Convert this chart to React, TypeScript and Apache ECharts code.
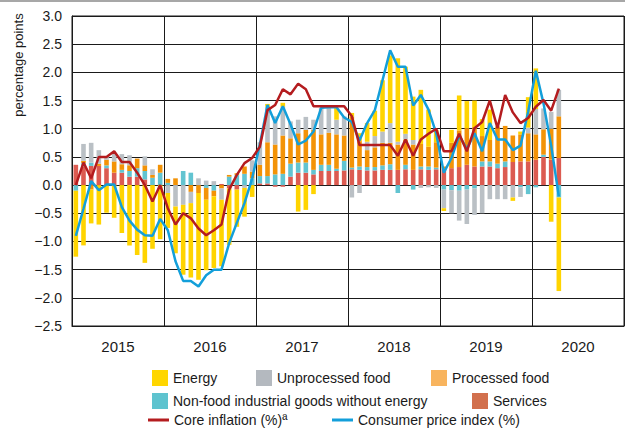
import React, { useEffect, useRef } from "react";
import * as echarts from "echarts";

const years = ["2015", "2016", "2017", "2018", "2019", "2020"];
const monthNames = ["01", "02", "03", "04", "05", "06", "07", "08", "09", "10", "11", "12"];
const months: string[] = [];
years.forEach((y) => monthNames.forEach((m) => months.push(y + "-" + m)));

const yTicks = [-2.5, -2, -1.5, -1, -0.5, 0, 0.5, 1, 1.5, 2, 2.5, 3];

// Jan 2015 .. Apr 2020 (percentage points)
const services = [
  0.36, 0.33, 0.34, 0.34, 0.30, 0.22, 0.22, 0.15, 0.15, 0.10, 0.00, 0.00,
  0.00, 0.00, 0.00, 0.00, 0.00, 0.00, 0.00, 0.02, -0.06, -0.08, 0.00, 0.00,
  0.03, 0.03, -0.03, -0.03, 0.15, 0.22, 0.22, 0.19, 0.25, 0.25, 0.25, 0.26,
  0.28, 0.27, 0.26, 0.26, 0.27, 0.27, 0.27, 0.28, 0.27, 0.28, 0.27, 0.28,
  0.29, 0.30, 0.32, 0.36, 0.33, 0.33, 0.33, 0.30, 0.32, 0.41, 0.42, 0.42,
  0.45, 0.50, 0.45, 0.48,
];
const nonFood = [
  -0.10, 0.06, 0.06, 0.00, 0.05, 0.00, 0.05, 0.10, 0.15, 0.15, 0.13, 0.22,
  0.04, 0.00, 0.25, 0.22, 0.00, -0.05, -0.10, 0.00, 0.15, 0.18, 0.20, 0.12,
  0.13, 0.13, 0.19, 0.20, 0.23, 0.18, 0.18, 0.08, 0.11, 0.11, 0.04, 0.17,
  0.03, 0.06, 0.06, 0.06, 0.08, 0.10, -0.14, 0.08, -0.08, 0.05, 0.06, 0.03,
  -0.08, -0.09, -0.10, -0.08, -0.06, 0.09, 0.09, 0.08, 0.10, 0.00, -0.04, -0.16,
  -0.04, 0.04, 0.00, -0.22,
];
const processedFood = [
  0.00, 0.04, -0.08, 0.04, 0.10, 0.20, 0.10, 0.10, 0.17, 0.10, 0.05, 0.14,
  0.07, 0.12, 0.00, -0.12, -0.14, -0.21, -0.10, -0.06, 0.03, 0.03, 0.13, 0.12,
  0.20, 0.60, 0.53, 0.68, 0.45, 0.52, 0.58, 0.71, 0.54, 0.57, 0.61, 0.45,
  0.91, 0.45, 0.30, 0.35, 0.40, 0.38, 0.45, 0.45, 0.45, 0.40, 0.35, 0.45,
  0.04, 0.45, 0.65, 0.65, 0.70, 0.45, 0.38, 0.66, 0.63, 0.47, 0.48, 0.50,
  0.45, 0.45, 0.55, 0.74,
];
const unprocessedFood = [
  0.00, 0.30, 0.35, 0.24, 0.05, 0.14, 0.18, 0.18, 0.00, 0.16, 0.10, 0.00,
  -0.14, -0.38, -0.35, -0.20, 0.12, 0.08, 0.07, -0.20, 0.00, 0.00, -0.05, 0.20,
  0.40, 0.63, 0.50, 0.51, 0.30, 0.24, 0.23, 0.18, 0.47, 0.44, 0.26, 0.34,
  -0.22, -0.14, 0.15, 0.20, 0.20, 0.35, 0.05, 0.10, 0.08, -0.05, -0.04, -0.05,
  -0.33, -0.41, -0.53, -0.61, -0.47, -0.50, -0.25, -0.25, -0.25, -0.22, -0.17, 0.10,
  0.45, 0.37, 0.30, 0.47,
];
const energy = [
  -1.17, -1.07, -0.60, -0.70, -0.49, -0.58, -0.85, -1.07, -1.24, -1.38, -1.13, -0.96,
  -0.62, -0.83, -1.24, -1.32, -1.54, -1.25, -1.27, -1.18, -1.00, -0.66, -0.51, -0.21,
  0.00, 0.05, 0.00, 0.07, 0.00, -0.47, -0.44, -0.16, 0.00, 0.00, 0.21, 0.00,
  0.06, 0.14, 0.33, 0.45, 0.91, 1.20, 1.48, 1.19, 0.77, 0.96, 0.66, 0.22,
  -0.05, 0.23, 0.62, 0.48, 0.47, 0.30, 0.54, 0.00, 0.00, -0.06, 0.05, 0.54,
  0.72, 0.00, -0.65, -1.66,
];
const coreInflation = [
  0.00, 0.40, 0.12, 0.50, 0.50, 0.60, 0.41, 0.41, 0.22, 0.00, -0.29, 0.00,
  -0.41, -0.70, -0.50, -0.59, -0.77, -0.89, -0.80, -0.70, -0.08, 0.18, 0.39, 0.48,
  0.68, 1.33, 1.42, 1.70, 1.61, 1.80, 1.70, 1.40, 1.40, 1.40, 1.40, 1.40,
  1.22, 0.71, 0.71, 0.71, 0.71, 0.71, 0.52, 0.81, 0.52, 0.81, 0.91, 1.00,
  0.60, 0.60, 0.91, 0.60, 1.01, 1.12, 1.50, 1.01, 1.60, 1.29, 1.10, 1.19,
  1.39, 1.51, 1.32, 1.71,
];
const cpi = [
  -0.90, -0.42, 0.07, -0.09, 0.01, 0.01, -0.39, -0.63, -0.79, -0.89, -0.90, -0.60,
  -0.80, -1.35, -1.70, -1.70, -1.80, -1.60, -1.50, -1.50, -1.03, -0.67, -0.32, 0.12,
  0.72, 1.42, 1.10, 1.40, 1.08, 0.72, 0.79, 0.95, 1.37, 1.38, 1.38, 1.20,
  1.12, 0.79, 1.10, 1.33, 1.86, 2.39, 2.10, 2.10, 1.41, 1.60, 1.34, 0.92,
  0.22, 0.48, 0.88, 0.64, 0.92, 0.60, 1.10, 0.81, 0.81, 0.62, 0.70, 1.30,
  2.03, 1.45, 0.70, -0.20,
];

const FONT = "'Liberation Sans', Arial, Helvetica, sans-serif";
const TXT = "#1a1a1a";

export default function App() {
  const ref = useRef<HTMLDivElement>(null);
  useEffect(() => {
    if (!ref.current) return;
    const chart = echarts.init(ref.current, undefined, { renderer: "svg" });
    const barSeries = (name: string, data: number[], color: string) => ({
      name,
      type: "bar",
      stack: "total",
      data,
      barWidth: "60%",
      itemStyle: { color },
      xAxisIndex: 0,
      yAxisIndex: 0,
    });
    const legendBase = {
      orient: "horizontal",
      padding: 0,
      itemGap: 0,
      itemWidth: 16,
      itemHeight: 16,
      icon: "rect",
      textStyle: { fontSize: 14, color: TXT, fontFamily: FONT },
    };
    const lineLegend = {
      ...legendBase,
      itemWidth: 21,
      itemHeight: 3,
      textStyle: { fontSize: 14, lineHeight: 14, color: TXT, fontFamily: FONT },
    };
    chart.setOption({
      animation: false,
      backgroundColor: "#ffffff",
      textStyle: { fontFamily: FONT },
      grid: {
        left: 72,
        right: 1,
        top: 16,
        bottom: 103,
        show: true,
        borderColor: "#1a1a1a",
        borderWidth: 1,
      },
      xAxis: [
        {
          type: "category",
          data: months,
          show: false,
          boundaryGap: true,
        },
        {
          type: "category",
          data: years,
          position: "bottom",
          boundaryGap: true,
          axisLine: { show: true, lineStyle: { color: "#1a1a1a", width: 1 } },
          axisTick: { show: false },
          splitLine: { show: true, lineStyle: { color: "#1a1a1a", width: 1 } },
          axisLabel: { fontSize: 15, color: TXT, margin: 13, fontFamily: FONT },
        },
      ],
      yAxis: {
        type: "value",
        min: yTicks[0],
        max: yTicks[yTicks.length - 1],
        interval: 0.5,
        axisLine: { show: true, lineStyle: { color: "#1a1a1a" } },
        axisTick: { show: false },
        splitLine: { show: true, lineStyle: { color: "#1a1a1a", width: 1 } },
        axisLabel: {
          fontSize: 14,
          color: TXT,
          margin: 10,
          fontFamily: FONT,
          formatter: (v: number) => (v < 0 ? "\u2212" + Math.abs(v).toFixed(1) : v.toFixed(1)),
        },
      },
      legend: [
        { ...legendBase, left: 152, top: 370, data: [{ name: "Energy", itemStyle: { color: "#FFD600" } }] },
        { ...legendBase, left: 256, top: 370, data: [{ name: "Unprocessed food", itemStyle: { color: "#B4B9BF" } }] },
        { ...legendBase, left: 431, top: 370, data: [{ name: "Processed food", itemStyle: { color: "#F8B45E" } }] },
        { ...legendBase, left: 152, top: 393, data: [{ name: "Non-food industrial goods without energy", itemStyle: { color: "#5EC3CF" } }] },
        { ...legendBase, left: 472, top: 393, data: [{ name: "Services", itemStyle: { color: "#D2704D" } }] },
        { ...lineLegend, left: 148, top: 413, data: [{ name: "Core inflation (%)\u00aa" }] },
        { ...lineLegend, left: 332, top: 413, data: [{ name: "Consumer price index (%)" }] },
      ],
      graphic: [
        {
          type: "line",
          shape: { x1: 0, y1: 1, x2: 625, y2: 1 },
          style: { stroke: "#8a8a8a", lineWidth: 1.5 },
        },
        {
          type: "text",
          x: 18,
          y: 65,
          rotation: Math.PI / 2,
          style: {
            text: "percentage points",
            fontSize: 13,
            fontFamily: FONT,
            fill: TXT,
            textAlign: "center",
            textVerticalAlign: "middle",
          },
        },
      ],
      series: [
        barSeries("Services", services, "#DC5B51"),
        barSeries("Non-food industrial goods without energy", nonFood, "#62C4D1"),
        barSeries("Processed food", processedFood, "#F39307"),
        barSeries("Unprocessed food", unprocessedFood, "#BAC0C5"),
        barSeries("Energy", energy, "#FFD400"),
        {
          name: "Consumer price index (%)",
          type: "line",
          data: cpi,
          symbol: "none",
          itemStyle: { color: "#139FDA" },
          lineStyle: { color: "#139FDA", width: 2.5 },
          z: 5,
        },
        {
          name: "Core inflation (%)\u00aa",
          type: "line",
          data: coreInflation,
          symbol: "none",
          itemStyle: { color: "#B41C1F" },
          lineStyle: { color: "#B41C1F", width: 2.5 },
          z: 6,
        },
      ],
    });
    return () => chart.dispose();
  }, []);
  return <div ref={ref} style={{ width: 625, height: 429, position: "absolute", left: 0, top: 0 }} />;
}
